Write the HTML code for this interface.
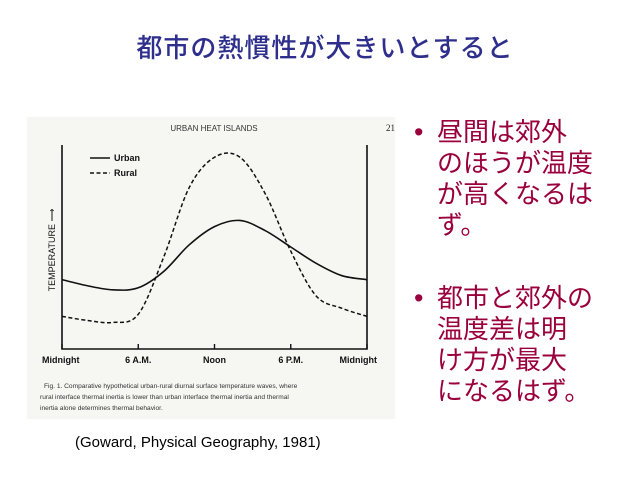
<!DOCTYPE html>
<html><head><meta charset="utf-8"><style>
body{margin:0;width:640px;height:480px;background:#fff;position:relative;overflow:hidden;font-family:"Liberation Sans","Noto Sans CJK JP",sans-serif}
.t{position:absolute;white-space:nowrap}
</style></head><body>
<div class="t" style="left:0;width:650px;text-align:center;top:28px;font-size:26px;color:#2e2e8c;letter-spacing:1px;font-weight:500">都市の熱慣性が大きいとすると</div>
<div class="t" style="left:414px;top:117px;font-size:27px;line-height:31px;color:#99003d">•</div>
<div class="t" style="left:437px;top:117px;font-size:26px;line-height:31px;color:#99003d">昼間は郊外<br>のほうが温度<br>が高くなるは<br>ず。</div>
<div class="t" style="left:414px;top:283px;font-size:27px;line-height:31px;color:#99003d">•</div>
<div class="t" style="left:437px;top:283px;font-size:26px;line-height:31px;color:#99003d">都市と郊外の<br>温度差は明<br>け方が最大<br>になるはず。</div>
<div class="t" style="left:75px;top:434px;font-size:15px;color:#000">(Goward, Physical Geography, 1981)</div>
<svg width="640" height="480" style="position:absolute;left:0;top:0">
<rect x="27" y="117" width="368" height="302" fill="#f6f6f3"/>
<text x="214" y="131" font-size="8" text-anchor="middle" font-family="Liberation Sans" fill="#333">URBAN HEAT ISLANDS</text>
<text x="386" y="131" font-size="9" font-family="Liberation Serif" fill="#222">21</text>
<g id="axes"></g>
<g id="curves"></g>
<g>
<line x1="90" y1="158" x2="110" y2="158" stroke="#111" stroke-width="1.6"/>
<text x="114" y="161" font-size="9" font-weight="bold" font-family="Liberation Sans" fill="#111">Urban</text>
<line x1="90" y1="173" x2="110" y2="173" stroke="#111" stroke-width="1.6" stroke-dasharray="4,2.5"/>
<text x="114" y="176" font-size="9" font-weight="bold" font-family="Liberation Sans" fill="#111">Rural</text>
</g>
<text transform="translate(55,250) rotate(-90)" font-size="9" font-family="Liberation Sans" fill="#111" text-anchor="middle">TEMPERATURE ⟶</text>
<g font-size="6.6" font-family="Liberation Sans" fill="#333">
<text x="44" y="388">Fig. 1. Comparative hypothetical urban-rural diurnal surface temperature waves, where</text>
<text x="40" y="399">rural interface thermal inertia is lower than urban interface thermal inertia and thermal</text>
<text x="40" y="410">inertia alone determines thermal behavior.</text>
</g>
</svg>
<script>
const hours=[0,2,4,6,8,10,12,14,16,18,20,22,24];
const urban=[34,31,29,30,38,51,60,63,58,50,42,36,34];
const rural=[16,14,13,17,45,79,94,94,76,48,26,20,16];
const tickHours=[0,6,12,18,24];
const tickLabels=["Midnight","6 A.M.","Noon","6 P.M.","Midnight"];
const X0=62,X1=367,Y0=349,Y1=145;
const xs=h=>X0+(X1-X0)*h/24;
const ys=v=>Y0-(Y0-Y1)*v/100;
const NS="http://www.w3.org/2000/svg";
const ax=document.getElementById('axes'),cv=document.getElementById('curves');
function mk(tag,attrs,parent){const e=document.createElementNS(NS,tag);for(const k in attrs)e.setAttribute(k,attrs[k]);parent.appendChild(e);return e;}
const frame=mk('path',{d:`M${X0},${Y1}V${Y0}H${X1}V${Y1}`,fill:'none',stroke:'#111','stroke-width':1.6},ax);


tickHours.forEach((h,i)=>{
 const t=mk('line',{x1:xs(h),x2:xs(h),y1:Y0,y2:Y0-5,stroke:'#111','stroke-width':1.4},ax);
 
 
 const anchor=i===0?'start':(i===tickLabels.length-1?'end':'middle');
 const tx=i===0?xs(h)-20:(i===tickLabels.length-1?xs(h)+10:xs(h));
 const l=mk('text',{x:tx,y:Y0+14,'font-size':9,'font-weight':'bold','font-family':'Liberation Sans',fill:'#111','text-anchor':anchor},ax);
 l.textContent=tickLabels[i];
 
 
});
function path(vals){
 const p=hours.map((h,i)=>[xs(h),ys(vals[i])]);
 let d=`M${p[0][0]},${p[0][1]}`;
 for(let i=0;i<p.length-1;i++){
  const a=p[Math.max(0,i-1)],b=p[i],c=p[i+1],e=p[Math.min(p.length-1,i+2)];
  d+=`C${b[0]+(c[0]-a[0])/6},${b[1]+(c[1]-a[1])/6} ${c[0]-(e[0]-b[0])/6},${c[1]-(e[1]-b[1])/6} ${c[0]},${c[1]}`;
 }
 return d;
}
const u=mk('path',{d:path(urban),fill:'none',stroke:'#111','stroke-width':1.6},cv);


const r=mk('path',{d:path(rural),fill:'none',stroke:'#111','stroke-width':1.5,'stroke-dasharray':'4,2.5'},cv);


</script>
</body></html>
